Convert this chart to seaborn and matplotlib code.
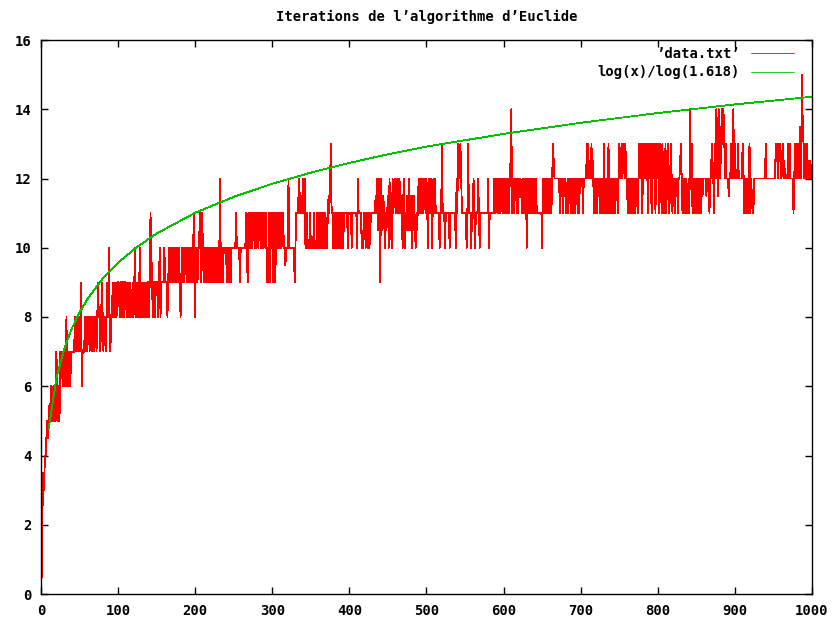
import numpy as np
import matplotlib
matplotlib.use("Agg")
import matplotlib.pyplot as plt
import seaborn as sns

# Iterations, one list per hundred values of n
iters_001_100 = [0.5, 2.5, 3.5, 3, 4, 4, 4.5, 5, 4.5, 5, 5.5, 5, 6, 5, 5.5, 6, 5, 6, 5, 7,
                 6, 5, 6, 5, 7, 7, 7, 6, 7, 6, 7, 6, 8, 6, 7, 6, 7, 6, 7, 7,
                 7, 7, 7, 8, 7, 8, 7, 8, 7, 8, 7, 9, 6, 7, 7, 7, 8, 7, 8, 7,
                 8, 8, 7, 8, 8, 7, 8, 8, 7, 8, 8, 7, 8, 9, 8, 8, 7, 8, 9, 8,
                 7, 8, 8, 7, 8, 9, 8, 10, 8, 7, 8, 8, 9, 8, 9, 8, 9, 8, 9, 9]
iters_101_200 = [9, 8, 9, 9, 8, 9, 9, 8, 9, 9, 8, 9, 8, 9, 8, 9, 8, 8, 9, 8,
                 9, 10, 8, 9, 8, 9, 8, 10, 8, 9, 8, 9, 8, 9, 8, 9, 8, 9, 9, 8,
                 9, 11, 10, 9, 8, 9, 9, 8, 9, 9, 9, 8, 9, 10, 8, 9, 9, 9, 9, 10,
                 9, 9, 9, 8, 9, 10, 9, 10, 9, 10, 9, 10, 10, 9, 10, 9, 10, 9, 10, 9,
                 8, 9, 10, 9, 10, 9, 10, 10, 9, 10, 9, 10, 9, 10, 9, 10, 9, 11, 10, 8]
iters_201_300 = [10, 10, 9, 10, 10, 11, 10, 9, 11, 10, 9, 10, 9, 10, 9, 10, 10, 9, 10, 9,
                 10, 9, 10, 9, 10, 10, 9, 10, 9, 10, 9, 12, 10, 9, 10, 9, 10, 10, 10, 10,
                 9, 10, 10, 9, 10, 9, 10, 10, 10, 10, 10, 10, 11, 10, 10, 10, 10, 9, 10, 10,
                 10, 10, 10, 10, 10, 11, 10, 9, 11, 10, 11, 10, 11, 10, 11, 11, 10, 11, 10, 11,
                 11, 10, 11, 11, 10, 11, 11, 10, 11, 11, 10, 11, 9, 10, 9, 11, 9, 11, 10, 11]
iters_301_400 = [9, 11, 10, 9, 11, 10, 11, 10, 11, 10, 11, 10, 11, 11, 10, 10, 9.5, 10, 10, 10,
                 12, 10, 10, 10, 10, 10, 10, 10, 9, 10, 11, 11, 11, 11.5, 12, 11, 11.5, 11, 11, 12,
                 11, 12, 10, 10, 11, 10, 10, 10, 11, 10, 10, 10, 10, 11, 10, 10, 10, 11, 10, 10,
                 11, 10, 11, 10, 11, 10, 11, 10, 11, 10, 10, 11, 11.5, 11, 12, 13, 11, 11, 10, 11,
                 10, 11, 10, 11, 10, 11, 10, 11, 10, 11, 11, 10, 11, 11, 11, 11, 11, 10, 11, 11]
iters_401_500 = [11, 11, 10, 11, 11, 11, 11, 11, 11, 10, 12, 11, 11, 11, 11, 10, 10.5, 10, 11, 11,
                 10, 11, 11, 10, 11, 10, 10.5, 11, 11, 11, 11, 11, 11, 11.5, 11, 12, 10.5, 12, 11.5, 9,
                 12, 11, 10.5, 11.5, 11, 10, 11, 10.5, 11, 11.5, 10, 12, 11, 10.5, 10, 12, 11, 11.5, 12, 11,
                 12, 11, 12, 11, 12, 11, 11.5, 11, 10, 11.5, 12, 10, 11, 10.5, 11.5, 10.5, 12, 11.5, 10.5, 11.5,
                 10, 11.5, 10.5, 11.5, 10.5, 10, 11, 10.5, 11.5, 12, 12, 11, 12, 11, 12, 11, 11.5, 12, 11, 12]
iters_501_600 = [11, 10, 12, 11, 11.5, 12, 10, 11, 12, 11, 12, 11, 11, 11, 11, 11, 10, 11, 11, 13,
                 11, 11, 11, 10, 11, 11, 11, 11, 11, 10, 11, 11, 11, 11, 11, 11, 11, 10, 12, 11,
                 13, 12, 12.5, 13, 12, 11, 11, 11, 11, 11, 11, 10, 11, 13, 11, 11, 11, 10, 11, 11,
                 12, 11, 10, 11, 11, 11, 12, 11, 10, 11, 11, 11, 11, 11, 11, 11, 11, 11, 11, 12,
                 10, 11, 11, 11, 11, 11, 11, 12, 11, 12, 11.5, 11, 12, 11, 12, 11, 11.5, 12, 11, 12]
iters_601_700 = [11, 12, 11, 12, 11, 12, 11, 12, 12.5, 14, 11, 12, 11, 12, 11.5, 12, 11, 12, 11, 12,
                 11.5, 12, 11.5, 11, 12, 11, 12, 11, 12, 10, 11, 12, 11, 12, 11, 12, 11, 12, 11, 12,
                 11, 12, 11, 11, 11, 11, 11, 11, 11, 10, 12, 11, 12, 11, 12, 11, 12, 11, 12, 11,
                 12, 11, 12, 13, 12.5, 12, 12, 12, 12, 12, 12, 12, 11, 12, 11.5, 12, 11, 12, 11.5, 12,
                 11, 11.5, 12, 11, 12, 12, 11, 12, 12, 11, 12, 11, 11, 12, 12, 11, 12, 11, 12, 12]
iters_701_800 = [12, 12, 11, 12, 12, 12, 12, 13, 13, 12, 12, 12.5, 12, 13, 12, 12.5, 11, 12, 11, 12,
                 11, 12, 11.5, 12, 11, 12, 11, 12, 11, 13, 11, 12, 11, 12, 11, 13, 12, 11, 12, 11,
                 12, 11, 12, 11, 12, 11.5, 12, 11, 12, 13, 12, 12.5, 13, 12, 13, 12.5, 12, 13, 12, 12,
                 11, 12, 11, 12, 11, 12, 11, 12, 11, 12, 11, 12, 12, 11, 12, 13, 12, 13, 12, 11,
                 13, 12, 13, 12.5, 12, 13, 11, 13, 12, 13, 12, 11, 13, 12, 13, 12, 11, 13, 12, 13]
iters_801_900 = [12, 11, 13, 12, 11, 13, 12, 11, 12, 13, 11, 12, 13, 12, 11, 12, 13, 12, 11, 12,
                 12, 11, 12, 11.5, 12, 11, 12, 12, 12.5, 13, 12, 11, 12, 11, 12, 11, 12, 11, 11.5, 12,
                 11, 14, 12, 13, 11, 12, 11, 12, 11.5, 11, 12, 11, 12, 11, 12, 11, 12, 11.5, 12, 12,
                 12, 12, 11.5, 12, 12, 12, 11, 12, 12, 13, 12.5, 12, 11, 13, 12, 14, 13, 11.5, 14, 13.5,
                 12, 13, 14, 13, 14, 13.5, 12, 13, 12, 12, 12, 11.5, 12, 12, 13, 12, 12, 14, 12, 13]
iters_901_1000 = [12, 12, 12, 13, 12, 12, 12, 12, 12, 13, 12.5, 11, 12, 11, 11.5, 12, 11, 12.5, 13, 11,
                  12, 11.5, 11, 11, 12, 12, 12, 12, 12, 12, 12, 12, 12, 12, 12, 12, 12, 12, 12, 13,
                  12, 12, 12, 12, 12, 12, 12, 12, 12, 12, 12, 12, 13, 12.5, 13, 12, 13, 12.5, 13, 12,
                  12.5, 13, 12, 12.5, 12, 12, 12, 12, 13, 12, 13, 12, 12, 12, 12, 11, 12, 13, 12, 13,
                  12, 13, 12, 13.5, 13, 12, 15, 13.5, 13, 12, 13, 12, 13, 12.5, 12, 12.5, 12, 12.5, 12, 12]

# green reference curve log(x)/log(1.618), values read at these x
curve_x = [10, 20, 30, 40, 50, 60, 80, 100, 125, 150, 200, 250, 300,
           350, 400, 450, 500, 600, 700, 800, 900, 1000]
curve_y = [4.79, 6.23, 7.07, 7.67, 8.13, 8.51, 9.11, 9.57, 10.03, 10.41, 11.01, 11.47, 11.85,
           12.17, 12.45, 12.70, 12.92, 13.29, 13.61, 13.89, 14.14, 14.36]

iterations = (iters_001_100 + iters_101_200 + iters_201_300 + iters_301_400 + iters_401_500
              + iters_501_600 + iters_601_700 + iters_701_800 + iters_801_900 + iters_901_1000)
n = np.arange(1, len(iterations) + 1)

sns.set_style("ticks")
plt.rcParams['font.family'] = ['DejaVu Sans Mono']
plt.rcParams['font.weight'] = 'bold'
plt.rcParams['text.color'] = 'black'
plt.rcParams['xtick.color'] = 'black'
plt.rcParams['ytick.color'] = 'black'

fig = plt.figure(figsize=(8.37, 6.23), dpi=100)
ax = fig.add_axes([41 / 837, 29 / 623, 771 / 837, 554 / 623])

sns.lineplot(x=n, y=iterations, ax=ax, color='#ff0000', linewidth=0.6,
             estimator=None, antialiased=False, label='’data.txt’')
sns.lineplot(x=curve_x, y=curve_y, ax=ax, color='#00c000', linewidth=0.6,
             estimator=None, antialiased=False, label='log(x)/log(1.618)')

ax.set_xlim(0, 1000)
ax.set_ylim(0, 16)
ax.set_xticks(range(0, 1001, 100))
ax.set_yticks(range(0, 17, 2))
ax.tick_params(direction='in', length=5, width=1, top=True, right=True,
               labelsize=10, pad=7, colors='black')
for s in ax.spines.values():
    s.set_visible(True)
    s.set_linewidth(1)
    s.set_color('black')

ax.set_title('Iterations de l’algorithme d’Euclide', fontsize=10,
             fontweight='bold', pad=14, color='black')
leg = ax.legend(loc='upper right', bbox_to_anchor=(0.984, 0.997), borderaxespad=0,
                frameon=False, markerfirst=False, fontsize=10, handlelength=3.1,
                handletextpad=0.8, labelspacing=0.3)
for t in leg.get_texts():
    t.set_color('black')

fig.savefig('out.png', dpi=100)
